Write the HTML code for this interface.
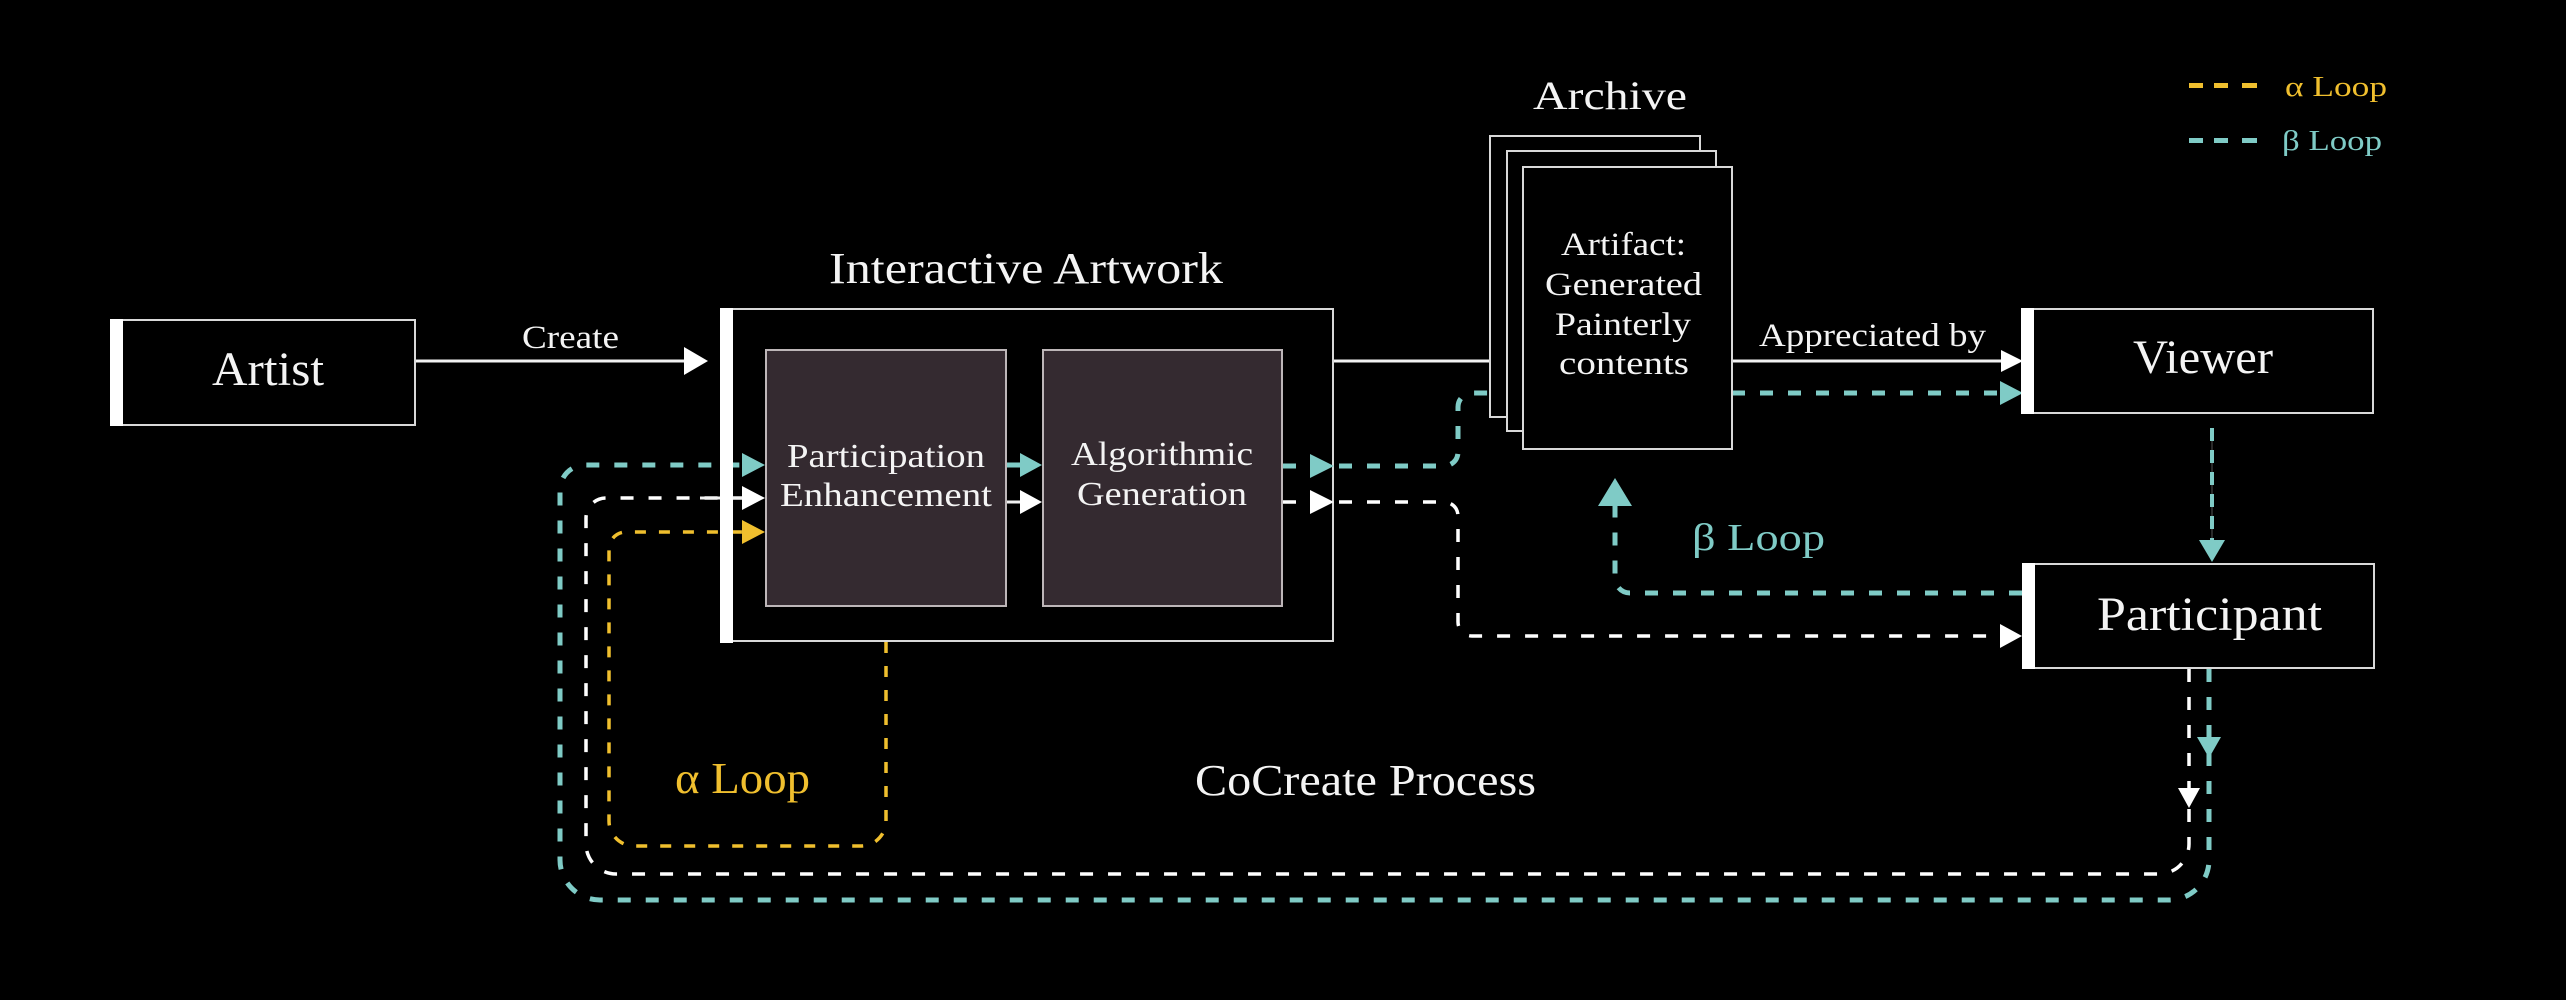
<!DOCTYPE html>
<html>
<head>
<meta charset="utf-8">
<style>
html,body{margin:0;padding:0;background:#000;}
svg{display:block;}
text{font-family:"Liberation Serif","DejaVu Serif",serif;}
</style>
</head>
<body>
<svg width="2566" height="1000" viewBox="0 0 2566 1000" xmlns="http://www.w3.org/2000/svg">
<rect x="0" y="0" width="2566" height="1000" fill="#000"/>

<!-- ===== Dashed loops (drawn first) ===== -->
<g fill="none" stroke-linecap="butt">
  <!-- teal big loop -->
  <path d="M2209,669 V860 A40,40 0 0 1 2169,900 H600 A40,40 0 0 1 560,860 V490 A25,25 0 0 1 585,465 H742" stroke="#7fcbc6" stroke-width="5" stroke-dasharray="13 15"/>
  <!-- white big loop -->
  <path d="M2189,669 V844 A30,30 0 0 1 2159,874 H616 A30,30 0 0 1 586,844 V518 A20,20 0 0 1 606,498 H742" stroke="#ffffff" stroke-width="3.5" stroke-dasharray="13 15"/>
  <!-- yellow alpha loop -->
  <path d="M886,642 V821 A25,25 0 0 1 861,846 H634 A25,25 0 0 1 609,821 V549 A17,17 0 0 1 626,532 H742" stroke="#f0bf2e" stroke-width="3.5" stroke-dasharray="11 13"/>
  <!-- teal from algorithmic to archive -->
  <path d="M1283,466 H1444 A14,14 0 0 0 1458,452 V407 A14,14 0 0 1 1472,393 H1500" stroke="#7fcbc6" stroke-width="5" stroke-dasharray="13 15"/>
  <!-- white from algorithmic to participant -->
  <path d="M1283,502 H1444 A14,14 0 0 1 1458,516 V622 A14,14 0 0 0 1472,636 H2002" stroke="#ffffff" stroke-width="3.5" stroke-dasharray="13 15"/>
  <!-- teal archive to viewer -->
  <path d="M1732,393 H2002" stroke="#7fcbc6" stroke-width="5" stroke-dasharray="13 15"/>
  <!-- beta loop participant -> archive -->
  <path d="M2022,593 H1630 A15,15 0 0 1 1615,578 V506" stroke="#7fcbc6" stroke-width="5" stroke-dasharray="13 15"/>
  <!-- viewer -> participant -->
  <line x1="2212" y1="428" x2="2212" y2="542" stroke="#555" stroke-width="1"/>
  <path d="M2212,428 V542" stroke="#7fcbc6" stroke-width="4" stroke-dasharray="13 9"/>
</g>

<!-- ===== Solid connectors ===== -->
<g stroke="#f2f2f2" stroke-width="3" fill="none">
  <line x1="416" y1="361" x2="686" y2="361"/>
  <line x1="1334" y1="361" x2="1492" y2="361"/>
  <line x1="1732" y1="361" x2="2003" y2="361"/>
  <line x1="1007" y1="502" x2="1022" y2="502"/>
  <line x1="700" y1="498" x2="744" y2="498"/>
</g>
<line x1="1007" y1="465" x2="1022" y2="465" stroke="#7fcbc6" stroke-width="5"/>

<!-- ===== Artist box ===== -->
<rect x="111" y="320" width="304" height="105" fill="#000" stroke="#d9d9d9" stroke-width="2"/>
<rect x="110" y="319" width="13" height="107" fill="#fff"/>
<text x="212" y="385" font-size="48" fill="#f4f4f4" textLength="112" lengthAdjust="spacingAndGlyphs">Artist</text>

<!-- Create label & arrow -->
<text x="522" y="348" font-size="33" fill="#f4f4f4" textLength="97" lengthAdjust="spacingAndGlyphs">Create</text>
<polygon points="684,347 708,361 684,375" fill="#fff"/>

<!-- ===== Interactive Artwork ===== -->
<text x="829" y="283" font-size="44" fill="#f4f4f4" textLength="394" lengthAdjust="spacingAndGlyphs">Interactive Artwork</text>
<rect x="721" y="309" width="612" height="332" fill="none" stroke="#d9d9d9" stroke-width="2"/>
<rect x="720" y="308" width="13" height="335" fill="#fff"/>

<rect x="766" y="350" width="240" height="256" fill="#342a30" stroke="#bdb6b8" stroke-width="2"/>
<rect x="1043" y="350" width="239" height="256" fill="#342a30" stroke="#bdb6b8" stroke-width="2"/>
<text x="787" y="467" font-size="34" fill="#f4f4f4" textLength="198" lengthAdjust="spacingAndGlyphs">Participation</text>
<text x="780" y="506" font-size="34" fill="#f4f4f4" textLength="212" lengthAdjust="spacingAndGlyphs">Enhancement</text>
<text x="1071" y="465" font-size="34" fill="#f4f4f4" textLength="182" lengthAdjust="spacingAndGlyphs">Algorithmic</text>
<text x="1077" y="505" font-size="34" fill="#f4f4f4" textLength="170" lengthAdjust="spacingAndGlyphs">Generation</text>

<!-- arrowheads inside IA -->
<polygon points="742,453 765,465 742,477" fill="#7fcbc6"/>
<polygon points="742,486 765,498 742,510" fill="#fff"/>
<polygon points="742,520 765,532 742,544" fill="#f0bf2e"/>
<polygon points="1020,453 1042,465 1020,477" fill="#7fcbc6"/>
<polygon points="1020,490 1042,502 1020,514" fill="#fff"/>
<polygon points="1310,454 1334,466 1310,478" fill="#7fcbc6"/>
<polygon points="1310,490 1334,502 1310,514" fill="#fff"/>

<!-- ===== Archive ===== -->
<text x="1533" y="109" font-size="40" fill="#f4f4f4" textLength="154" lengthAdjust="spacingAndGlyphs">Archive</text>
<rect x="1490" y="136" width="210" height="281" fill="#000" stroke="#d9d9d9" stroke-width="2"/>
<rect x="1507" y="151" width="209" height="280" fill="#000" stroke="#d9d9d9" stroke-width="2"/>
<rect x="1523" y="167" width="209" height="282" fill="#000" stroke="#d9d9d9" stroke-width="2"/>
<text x="1561" y="255" font-size="33" fill="#f4f4f4" textLength="125" lengthAdjust="spacingAndGlyphs">Artifact:</text>
<text x="1545" y="295" font-size="33" fill="#f4f4f4" textLength="157" lengthAdjust="spacingAndGlyphs">Generated</text>
<text x="1555" y="335" font-size="33" fill="#f4f4f4" textLength="136" lengthAdjust="spacingAndGlyphs">Painterly</text>
<text x="1559" y="374" font-size="33" fill="#f4f4f4" textLength="130" lengthAdjust="spacingAndGlyphs">contents</text>

<!-- Appreciated by -->
<text x="1759" y="346" font-size="33" fill="#f4f4f4" textLength="227" lengthAdjust="spacingAndGlyphs">Appreciated by</text>
<polygon points="2001,350 2023,361 2001,372" fill="#fff"/>
<polygon points="2000,381 2023,393 2000,405" fill="#7fcbc6"/>

<!-- ===== Viewer ===== -->
<rect x="2022" y="309" width="351" height="104" fill="#000" stroke="#d9d9d9" stroke-width="2"/>
<rect x="2021" y="308" width="13" height="106" fill="#fff"/>
<text x="2133" y="373" font-size="48" fill="#f4f4f4" textLength="140" lengthAdjust="spacingAndGlyphs">Viewer</text>
<polygon points="2199,540 2225,540 2212,562" fill="#7fcbc6"/>

<!-- ===== Participant ===== -->
<rect x="2023" y="564" width="351" height="104" fill="#000" stroke="#d9d9d9" stroke-width="2"/>
<rect x="2022" y="563" width="13" height="106" fill="#fff"/>
<text x="2097" y="630" font-size="48" fill="#f4f4f4" textLength="225" lengthAdjust="spacingAndGlyphs">Participant</text>
<polygon points="2000,624 2022,636 2000,648" fill="#fff"/>

<!-- down arrows below participant -->
<polygon points="2197,737 2221,737 2209,758" fill="#7fcbc6"/>
<polygon points="2178,788 2200,788 2189,808" fill="#fff"/>

<!-- beta loop arrow & label -->
<polygon points="1598,506 1632,506 1615,478" fill="#7fcbc6"/>
<text x="1692" y="550" font-size="38" fill="#7fcbc6" textLength="133" lengthAdjust="spacingAndGlyphs">β Loop</text>

<!-- alpha loop label, cocreate -->
<text x="675" y="793" font-size="44" fill="#f0bf2e" textLength="135" lengthAdjust="spacingAndGlyphs">α Loop</text>
<text x="1195" y="795" font-size="44" fill="#f4f4f4" textLength="341" lengthAdjust="spacingAndGlyphs">CoCreate Process</text>

<!-- ===== Legend ===== -->
<rect x="2189" y="83" width="14" height="5" fill="#f0bf2e"/>
<rect x="2214" y="83" width="14" height="5" fill="#f0bf2e"/>
<rect x="2242" y="83" width="15" height="5" fill="#f0bf2e"/>
<text x="2285" y="96" font-size="28" fill="#f0bf2e" textLength="102" lengthAdjust="spacingAndGlyphs">α Loop</text>
<rect x="2189" y="138" width="14" height="5" fill="#7fcbc6"/>
<rect x="2214" y="138" width="14" height="5" fill="#7fcbc6"/>
<rect x="2242" y="138" width="15" height="5" fill="#7fcbc6"/>
<text x="2282" y="150" font-size="28" fill="#7fcbc6" textLength="100" lengthAdjust="spacingAndGlyphs">β Loop</text>
</svg>
</body>
</html>
